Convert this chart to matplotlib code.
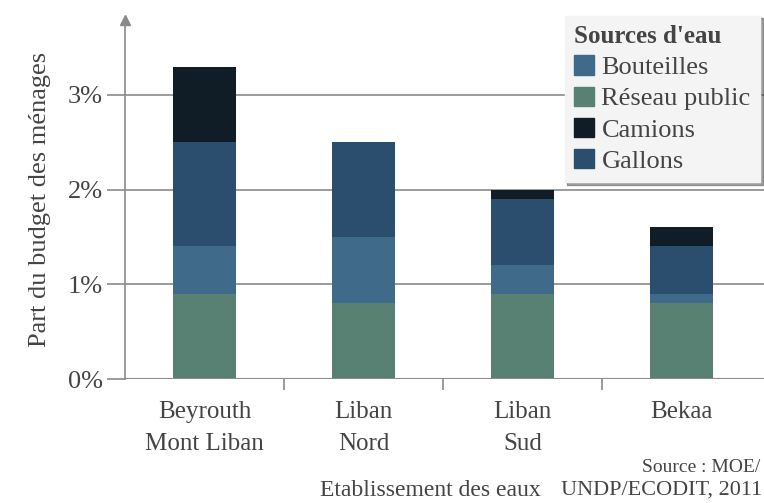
import matplotlib.pyplot as plt
import numpy as np
from matplotlib.patches import Patch

plt.rcParams['font.family'] = ['Liberation Serif', 'DejaVu Serif']

regions = ['Beyrouth\nMont Liban', 'Liban\nNord', 'Liban\nSud', 'Bekaa']
reseau = [0.9, 0.8, 0.9, 0.8]
bouteilles = [0.5, 0.7, 0.3, 0.1]
gallons = [1.1, 1.0, 0.7, 0.5]
camions = [0.8, 0.0, 0.1, 0.2]

c_reseau = '#588073'
c_bout = '#406a8a'
c_gall = '#2c4e6e'
c_cam = '#101c26'
txt = '#444444'
grid = '#8a8a8a'

fig = plt.figure(figsize=(7.64, 5.03), dpi=100)
ax = fig.add_axes([0.1636, 0.2465, 0.8364, 0.7135])

x = np.arange(len(regions))
w = 0.4
b1 = np.array(reseau)
b2 = b1 + np.array(bouteilles)
b3 = b2 + np.array(gallons)
ax.bar(x, reseau, w, color=c_reseau, zorder=3)
ax.bar(x, bouteilles, w, bottom=b1, color=c_bout, zorder=3)
ax.bar(x, gallons, w, bottom=b2, color=c_gall, zorder=3)
ax.bar(x, camions, w, bottom=b3, color=c_cam, zorder=3)

ax.set_xlim(-0.5, 3.52)
ax.set_ylim(0, 3.79)

# gridlines
for v in [1, 2, 3]:
    ax.axhline(v, color=grid, lw=1.2, zorder=1)

for s in ['top', 'right', 'bottom']:
    ax.spines[s].set_visible(False)
ax.spines['left'].set_color(grid)
ax.spines['left'].set_linewidth(1.2)
ax.axhline(0, color=grid, lw=1.5, zorder=4)
# arrow on y axis
ax.plot([-0.5], [3.79], marker='^', color=grid, markersize=7, clip_on=False, zorder=5)

ax.set_yticks([0, 1, 2, 3])
ax.set_yticklabels(['0%', '1%', '2%', '3%'], fontsize=19, color=txt)
ax.tick_params(axis='y', length=13, color=grid, width=1.2, pad=3)

ax.set_xticks(x)
ax.set_xticklabels(regions, fontsize=18, color=txt, linespacing=1.55)
ax.tick_params(axis='x', length=0, pad=16)
ax.set_xticks([0.5, 1.5, 2.5], minor=True)
ax.tick_params(axis='x', which='minor', length=8, color=grid, width=1.2)

ax.set_ylabel('Part du budget des ménages', fontsize=19, color=txt, labelpad=12)

fig.text(0.563, 0.025, 'Etablissement des eaux', fontsize=17, color=txt, ha='center', va='center')
fig.text(0.995, 0.071, 'Source : MOE/', fontsize=14, color=txt, ha='right', va='center')
fig.text(0.998, 0.025, 'UNDP/ECODIT, 2011', fontsize=16, color=txt, ha='right', va='center')

handles = [Patch(color=c_bout, label='Bouteilles'),
           Patch(color=c_reseau, label='Réseau public'),
           Patch(color=c_cam, label='Camions'),
           Patch(color=c_gall, label='Gallons')]
leg = fig.legend(handles=handles, title="Sources d'eau", loc='upper right',
                 bbox_to_anchor=(1.012, 0.995), fontsize=19, title_fontsize=18,
                 frameon=True, fancybox=False, shadow=True, facecolor='#f4f4f4',
                 edgecolor='#f4f4f4', handlelength=0.75, handleheight=0.75,
                 handletextpad=0.3, labelspacing=0.28, borderpad=0.35, alignment='left')
leg.get_title().set_fontweight('bold')
leg.get_title().set_color(txt)
for t in leg.get_texts():
    t.set_color(txt)

fig.savefig('out.png', dpi=100)
